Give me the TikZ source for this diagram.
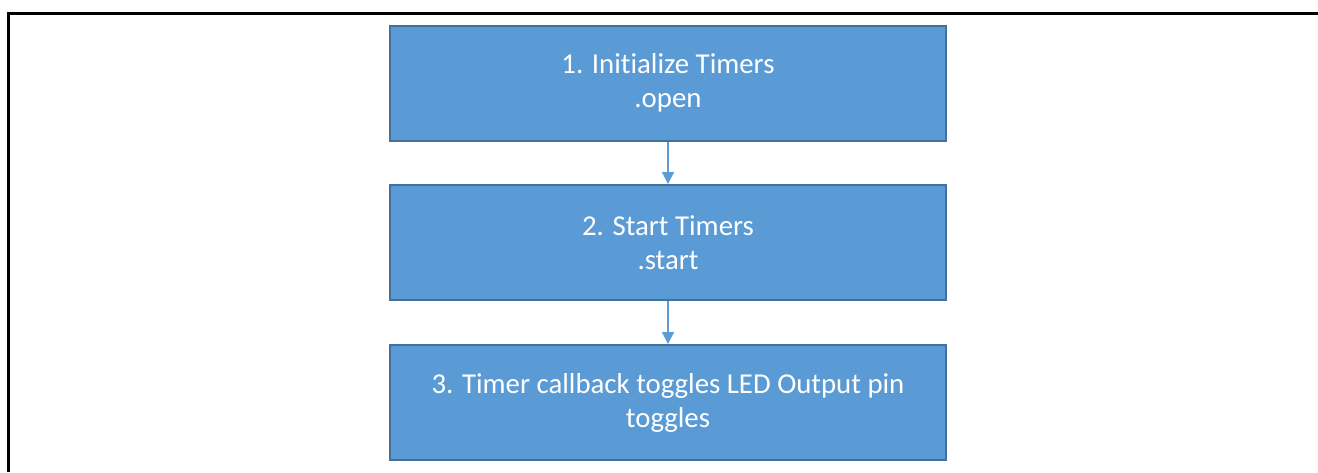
\documentclass[tikz,border=0pt]{standalone}
\usepackage{fontspec}
\setmainfont{Carlito}[Ligatures=NoCommon]
\usetikzlibrary{arrows.meta}
\definecolor{boxfill}{HTML}{5B9BD5}
\definecolor{boxline}{HTML}{41719C}
\tikzset{
  stepbox/.style={draw=boxline, line width=2pt, fill=boxfill, text=white,
    minimum width=556pt, minimum height=115pt, align=center, inner sep=0pt,
    font=\fontsize{28.8}{34}\selectfont},
  flow/.style={draw=boxfill, line width=1.3pt, -{Triangle[width=12pt,length=12pt]}},
  frame/.style={draw=black, line width=3pt}
}
\begin{document}
\begin{tikzpicture}[x=1pt,y=-1pt]
  \useasboundingbox (0,0) rectangle (1318,472);
  % outer frame: top and left edges only
  \coordinate (fbl) at (8,472);
  \coordinate (ftl) at (8,13);
  \coordinate (ftr) at (1318,13);
  \draw[frame] (fbl) -- (ftl) -- (ftr);
  % process steps
  \node[stepbox] (s1) at (668,83) {1. Initialize Timers\\.open};
  \node[stepbox] (s2) at (668,242.5) {2. Start Timers\\.start};
  \node[stepbox] (s3) at (668,402.5) {3. Timer callback toggles LED Output pin\\toggles};
  % connectors
  \draw[flow] (s1) -- (s2);
  \draw[flow] (s2) -- (s3);
\end{tikzpicture}
\end{document}
